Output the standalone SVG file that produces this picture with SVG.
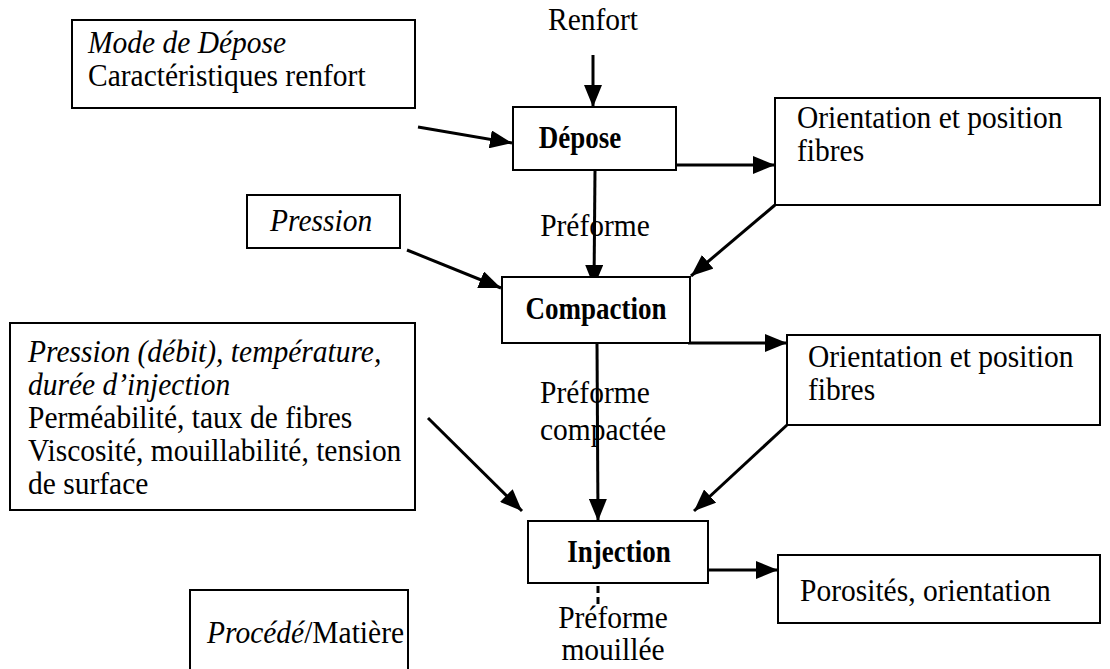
<svg xmlns="http://www.w3.org/2000/svg" width="1110" height="669" viewBox="0 0 1110 669">
<style>
.box{fill:#fff;stroke:#000;stroke-width:2}
.t{font-family:"Liberation Serif","Times New Roman",serif;font-size:29.5px;fill:#000}
.i{font-style:italic}
.b{font-weight:bold;font-size:27px}
.c{stroke:#000;stroke-width:3;fill:none}
</style>
<defs>
<marker id="ah" markerUnits="userSpaceOnUse" markerWidth="24" markerHeight="18" refX="22" refY="9" orient="auto">
<path d="M0,0 L22,9 L0,18 Z" fill="#000"/>
</marker>
</defs>
<rect width="1110" height="669" fill="#fff"/>
<g id="connectors">
<line class="c" x1="593" y1="55" x2="593" y2="107" marker-end="url(#ah)"/>
<line class="c" x1="418" y1="127" x2="512" y2="143" marker-end="url(#ah)"/>
<line class="c" x1="676" y1="165" x2="775" y2="165" marker-end="url(#ah)"/>
<line class="c" x1="595" y1="170" x2="594" y2="287" marker-end="url(#ah)"/>
<line class="c" x1="407" y1="250" x2="501" y2="288" marker-end="url(#ah)"/>
<line class="c" x1="775" y1="205" x2="691" y2="276" marker-end="url(#ah)"/>
<line class="c" x1="688" y1="343" x2="787" y2="343" marker-end="url(#ah)"/>
<line class="c" x1="597" y1="343" x2="598" y2="521" marker-end="url(#ah)"/>
<line class="c" x1="428" y1="418" x2="522" y2="511" marker-end="url(#ah)"/>
<line class="c" x1="787" y1="425" x2="694" y2="511" marker-end="url(#ah)"/>
<line class="c" x1="708" y1="570" x2="778" y2="570" marker-end="url(#ah)"/>
<line class="c" x1="598" y1="586" x2="598" y2="604" stroke-dasharray="7,4"/>
</g>
<g id="renfort"><text class="t" transform="translate(593,30) scale(1,1.08)" text-anchor="middle">Renfort</text></g>
<g id="mode-depose">
<rect class="box" x="72" y="20" width="343" height="88"/>
<text class="t i" transform="translate(88,53) scale(1,1.1)">Mode de Dépose</text>
<text class="t" transform="translate(88,86) scale(1,1.1)">Caractéristiques renfort</text>
</g>
<g id="depose">
<rect class="box" x="513" y="107" width="163" height="63"/>
<text class="t b" transform="translate(580,148) scale(1,1.2)" text-anchor="middle">Dépose</text>
</g>
<g id="orient1">
<rect class="box" x="775" y="98" width="325" height="107"/>
<text class="t" transform="translate(797,128) scale(1,1.1)">Orientation et position</text>
<text class="t" transform="translate(797,161) scale(1,1.1)">fibres</text>
</g>
<g id="label-preforme"><text class="t" transform="translate(595,236) scale(1,1.1)" text-anchor="middle">Préforme</text></g>
<g id="pression">
<rect class="box" x="247" y="195" width="153" height="53"/>
<text class="t i" transform="translate(270,231) scale(1,1.1)">Pression</text>
</g>
<g id="compaction">
<rect class="box" x="502" y="277" width="188" height="66"/>
<text class="t b" transform="translate(596,319) scale(1,1.2)" text-anchor="middle">Compaction</text>
</g>
<g id="orient2">
<rect class="box" x="787" y="335" width="313" height="90"/>
<text class="t" transform="translate(808,367) scale(1,1.1)">Orientation et position</text>
<text class="t" transform="translate(808,400) scale(1,1.1)">fibres</text>
</g>
<g id="injection-params">
<rect class="box" x="10" y="323" width="405" height="187"/>
<text class="t i" transform="translate(28,362) scale(1,1.1)">Pression (débit), température,</text>
<text class="t i" transform="translate(28,395) scale(1,1.1)">durée d’injection</text>
<text class="t" transform="translate(28,428) scale(1,1.1)">Perméabilité, taux de fibres</text>
<text class="t" transform="translate(28,461) scale(1,1.1)">Viscosité, mouillabilité, tension</text>
<text class="t" transform="translate(28,494) scale(1,1.1)">de surface</text>
</g>
<g id="label-compactee">
<text class="t" transform="translate(540,403) scale(1,1.1)">Préforme</text>
<text class="t" transform="translate(540,440) scale(1,1.1)">compactée</text>
</g>
<g id="injection">
<rect class="box" x="528" y="521" width="180" height="62"/>
<text class="t b" transform="translate(619,562) scale(1,1.2)" text-anchor="middle">Injection</text>
</g>
<g id="porosites">
<rect class="box" x="778" y="555" width="322" height="68"/>
<text class="t" transform="translate(800,601) scale(1,1.1)">Porosités, orientation</text>
</g>
<g id="label-mouillee">
<text class="t" transform="translate(613,628) scale(1,1.08)" text-anchor="middle">Préforme</text>
<text class="t" transform="translate(613,660) scale(1,1.08)" text-anchor="middle">mouillée</text>
</g>
<g id="legend">
<rect class="box" x="190" y="590" width="218" height="85"/>
<text class="t" transform="translate(207,643) scale(1,1.1)"><tspan class="i">Procédé</tspan>/Matière</text>
</g>
</svg>
